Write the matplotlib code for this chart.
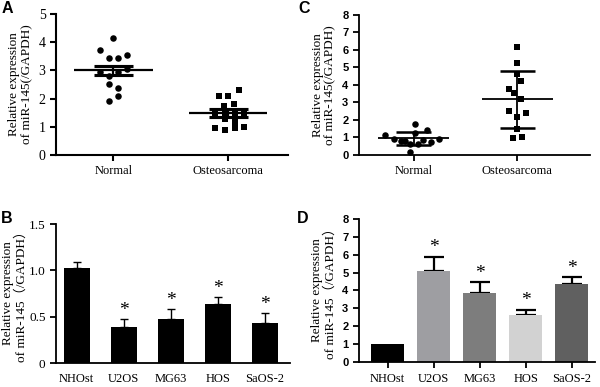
import numpy as np
import matplotlib
matplotlib.use('Agg')
import matplotlib.pyplot as plt

# ============================================================
# DATA
# ============================================================

# Panel A: scatter, mean +/- SEM
a_groups = ["Normal", "Osteosarcoma"]
a_normal_dx = [0.0, -0.12, -0.04, 0.04, 0.12, -0.12, -0.04, 0.04, 0.12, -0.04, 0.04, -0.04, 0.04]
a_normal_y = [4.17, 3.72, 3.43, 3.43, 3.55, 2.93, 2.81, 2.93, 3.07, 2.51, 2.39, 1.91, 2.09]
a_osteo_dx = [-0.08, 0.0, 0.09, -0.04, 0.05, -0.12, -0.03, 0.06, 0.14,
              -0.03, 0.06, -0.12, -0.03, 0.06, 0.14]
a_osteo_y = [2.10, 2.10, 2.30, 1.74, 1.80, 1.48, 1.48, 1.48, 1.48,
             1.27, 1.18, 0.95, 0.89, 0.95, 1.00]
a_mean = [3.0, 1.5]
a_err = [0.17, 0.15]

# Panel C: scatter, mean +/- SD
c_groups = ["Normal", "Osteosarcoma"]
c_normal_dx = [-0.28, -0.19, -0.12, 0.01, -0.04, 0.04, 0.13, 0.09, 0.17, 0.24, -0.04, 0.01, -0.08]
c_normal_y = [1.15, 0.90, 0.82, 1.75, 0.62, 0.62, 1.43, 0.88, 0.76, 0.90, 0.18, 1.28, 0.78]
c_osteo_dx = [0.0, 0.0, 0.0, 0.04, -0.08, -0.03, 0.04, -0.08, 0.08, 0.0, 0.0, -0.04, 0.05]
c_osteo_y = [6.19, 5.24, 4.61, 4.25, 3.77, 3.52, 3.20, 2.53, 2.42, 2.15, 1.47, 0.95, 1.05]
c_mean = [0.95, 3.17]
c_err = [0.38, 1.60]

# Panel B: bars
b_cells = ["NHOst", "U2OS", "MG63", "HOS", "SaOS-2"]
b_vals = [1.03, 0.39, 0.48, 0.64, 0.43]
b_err = [0.06, 0.08, 0.10, 0.07, 0.11]
b_star = [False, True, True, True, True]

# Panel D: bars
d_cells = ["NHOst", "U2OS", "MG63", "HOS", "SaOS-2"]
d_vals = [1.0, 5.1, 3.85, 2.6, 4.35]
d_err = [0.0, 0.78, 0.6, 0.33, 0.38]
d_star = [False, True, True, True, True]
d_colors = ["#000000", "#9e9ea2", "#7d7d7d", "#d2d2d2", "#606060"]

SERIF = ["Liberation Serif", "Noto Sans CJK SC"]
SANS = ["Liberation Sans", "DejaVu Sans"]
YLAB_A = "Relative expression\nof miR-145(/GAPDH)"
YLAB_B = "Relative expression\nof miR-145（/GAPDH）"

fig = plt.figure(figsize=(6, 3.87), dpi=100)


def style_axes(ax, lw=1.3):
    ax.spines["top"].set_visible(False)
    ax.spines["right"].set_visible(False)
    for s in ("left", "bottom"):
        ax.spines[s].set_linewidth(lw)
    ax.tick_params(width=lw, length=4, direction="out")


def scatter_panel(ax, groups, dx_list, y_list, markers, mean, err, lw, ms):
    for i, (dx, y, m) in enumerate(zip(dx_list, y_list, markers)):
        ax.scatter(np.array(dx) + i, y, marker=m, s=ms, c="black",
                   linewidths=0, zorder=3)
        ax.hlines(mean[i], i - 0.34, i + 0.34, color="black", lw=lw, zorder=4)
        ax.hlines([mean[i] - err[i], mean[i] + err[i]], i - 0.17, i + 0.17,
                  color="black", lw=lw * 1.4, zorder=4)
        ax.vlines(i, mean[i] - err[i], mean[i] + err[i], color="black",
                  lw=lw, zorder=4)
    ax.set_xticks(range(len(groups)))
    ax.set_xticklabels(groups, family=SERIF, fontsize=9)


def bold_sans_yticks(ax):
    for t in ax.get_yticklabels():
        t.set_family(SANS)
        t.set_fontweight("bold")
        t.set_fontsize(8)


# ---------------- A ----------------
axA = fig.add_axes([0.0933, 0.5995, 0.387, 0.364])
scatter_panel(axA, a_groups, [a_normal_dx, a_osteo_dx], [a_normal_y, a_osteo_y],
              ["o", "s"], a_mean, a_err, 1.6, 22)
axA.set_xlim(-0.5, 1.52)
axA.set_ylim(0, 5)
axA.set_yticks([0, 1, 2, 3, 4, 5])
for t in axA.get_yticklabels():
    t.set_family(SERIF)
    t.set_fontsize(10)
axA.set_ylabel(YLAB_A, family=SERIF, fontsize=9.5, linespacing=1.1, labelpad=4)
style_axes(axA, 1.5)

# ---------------- C ----------------
axC = fig.add_axes([0.598, 0.5995, 0.385, 0.362])
scatter_panel(axC, c_groups, [c_normal_dx, c_osteo_dx], [c_normal_y, c_osteo_y],
              ["o", "s"], c_mean, c_err, 1.3, 22)
axC.set_xlim(-0.53, 1.7)
axC.set_ylim(0, 8)
axC.set_yticks(range(0, 9))
bold_sans_yticks(axC)
axC.set_ylabel(YLAB_A, family=SERIF, fontsize=9.5, linespacing=1.1, labelpad=4)
style_axes(axC, 1.3)

# ---------------- B ----------------
axB = fig.add_axes([0.0933, 0.062, 0.39, 0.359])
xb = np.arange(len(b_cells))
axB.bar(xb, b_vals, width=0.55, color="black", zorder=2)
axB.errorbar(xb, b_vals, yerr=[np.zeros(len(b_err)), b_err], fmt="none",
             ecolor="black", elinewidth=1.0, capsize=3, capthick=1.0, zorder=3)
for x, v, e, s in zip(xb, b_vals, b_err, b_star):
    if s:
        axB.text(x, v + e + 0.005, "*", ha="center", va="bottom",
                 family=SERIF, fontsize=14)
axB.set_xlim(-0.44, 4.53)
axB.set_ylim(0, 1.5)
axB.set_yticks([0, 0.5, 1.0, 1.5])
axB.set_yticklabels(["0", "0.5", "1.0", "1.5"], family=SERIF, fontsize=9.5)
axB.set_xticks(xb)
axB.set_xticklabels(b_cells, family=SERIF, fontsize=9)
axB.set_ylabel(YLAB_B, family=SERIF, fontsize=9.5, linespacing=1.1, labelpad=1)
style_axes(axB, 1.3)
axB.tick_params(axis="x", length=0, pad=7)

# ---------------- D ----------------
axD = fig.add_axes([0.598, 0.0646, 0.393, 0.37])
xd = np.arange(len(d_cells))
axD.bar(xd, d_vals, width=0.72, color=d_colors, zorder=2)
axD.errorbar(xd[1:], d_vals[1:], yerr=[np.zeros(len(d_err) - 1), d_err[1:]],
             fmt="none", ecolor="black", elinewidth=1.6, capsize=7, capthick=1.6,
             zorder=1)
for x, v, e, s in zip(xd, d_vals, d_err, d_star):
    if s:
        axD.text(x, v + e + 0.02, "*", ha="center", va="bottom",
                 family=SERIF, fontsize=14)
axD.set_xlim(-0.63, 4.5)
axD.set_ylim(0, 8)
axD.set_yticks(range(0, 9))
bold_sans_yticks(axD)
axD.set_xticks(xd)
axD.set_xticklabels(d_cells, family=SERIF, fontsize=9)
axD.set_ylabel(YLAB_B, family=SERIF, fontsize=9.5, linespacing=1.1, labelpad=4)
style_axes(axD, 1.3)
axD.tick_params(axis="x", pad=4)

# panel letters
for lbl, x, y in [("A", 0.002, 0.997), ("C", 0.498, 0.997),
                  ("B", 0.002, 0.455), ("D", 0.495, 0.455)]:
    fig.text(x, y, lbl, family=SANS, fontweight="bold", fontsize=11.5,
             ha="left", va="top")

fig.savefig("out.png", dpi=100, facecolor="white")
plt.close(fig)
